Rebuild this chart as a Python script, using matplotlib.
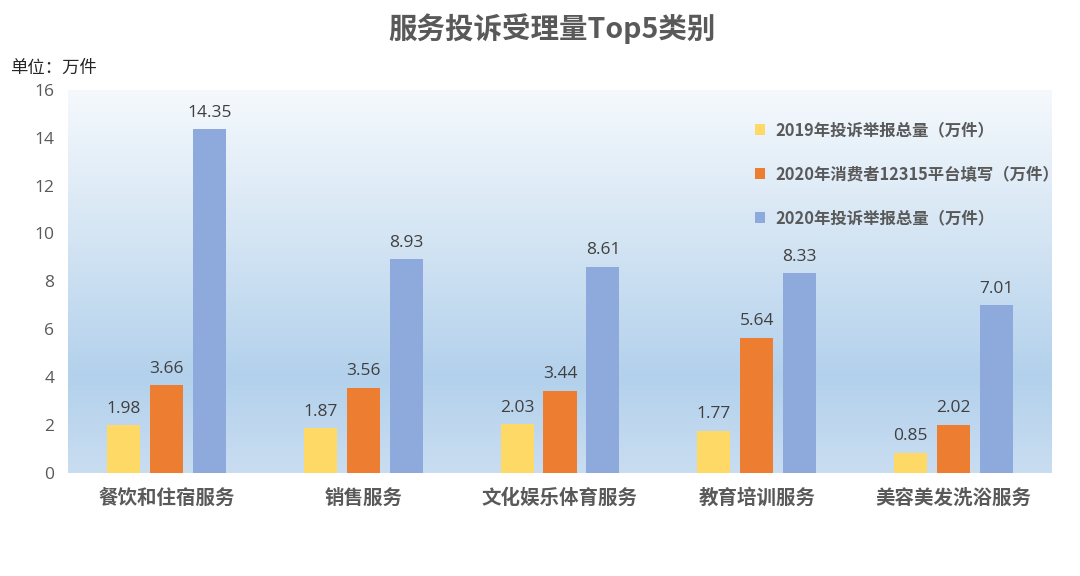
import numpy as np
import matplotlib.pyplot as plt
from matplotlib.colors import LinearSegmentedColormap

plt.rcParams['font.family'] = ['Noto Sans CJK SC', 'DejaVu Sans']

categories = ['餐饮和住宿服务', '销售服务', '文化娱乐体育服务', '教育培训服务', '美容美发洗浴服务']
series_names = ['2019年投诉举报总量（万件）',
                '2020年消费者12315平台填写（万件）',
                '2020年投诉举报总量（万件）']
v2019 = [1.98, 1.87, 2.03, 1.77, 0.85]
v2020_12315 = [3.66, 3.56, 3.44, 5.64, 2.02]
v2020_total = [14.35, 8.93, 8.61, 8.33, 7.01]
colors = ['#FFD966', '#ED7D31', '#8EA9DB']

fig = plt.figure(figsize=(10.8, 5.76), dpi=100)
ax = fig.add_axes([0.063, 0.179, 0.911, 0.665])

# fond en dégradé : clair en haut, bleu vers le quart inférieur
grad_cmap = LinearSegmentedColormap.from_list(
    'bg', [(0.0, '#c9ddf1'), (0.25, '#b3d1ec'), (0.6, '#d3e4f3'), (1.0, '#f5f9fd')])
grad = np.linspace(0, 1, 256).reshape(-1, 1)
ax.imshow(grad, cmap=grad_cmap, origin='lower', aspect='auto',
          extent=[-0.5, 4.5, 0, 16], zorder=0)

x = np.arange(len(categories))
w = 0.168
pitch = 0.218
for i, (vals, c, name) in enumerate(zip([v2019, v2020_12315, v2020_total], colors, series_names)):
    pos = x + (i - 1) * pitch
    ax.bar(pos, vals, width=w, color=c, label=name, zorder=2)
    for xp, v in zip(pos, vals):
        ax.text(xp, v + 0.35, f'{v:.2f}', ha='center', va='bottom',
                fontsize=12.5, family=['Open Sans', 'DejaVu Sans'],
                color='#404040', zorder=3)

ax.set_xlim(-0.5, 4.5)
ax.set_ylim(0, 16)
ax.set_yticks(range(0, 17, 2))
ax.set_xticks(x)
ax.set_xticklabels(categories, fontsize=14, fontweight='bold', color='#595959')
ax.tick_params(axis='y', length=0, pad=10)
for t in ax.get_yticklabels():
    t.set_fontfamily(['Open Sans', 'DejaVu Sans'])
    t.set_fontsize(12.5)
    t.set_color('#595959')
ax.tick_params(axis='x', length=0, pad=11)
for s in ax.spines.values():
    s.set_visible(False)

leg = ax.legend(loc='upper left', bbox_to_anchor=(0.683, 0.957), frameon=False,
                handlelength=0.65, handleheight=0.65, handletextpad=0.6,
                labelspacing=1.6, prop={'size': 11.8, 'weight': 'bold'})
for t in leg.get_texts():
    t.set_color('#595959')

fig.text(0.511, 0.95, '服务投诉受理量Top5类别', ha='center', va='center',
         fontsize=20.5, fontweight='bold', color='#595959')
fig.text(0.009, 0.882, '单位：万件', ha='left', va='center',
         fontsize=12.5, color='#262626')

fig.savefig('out.png', dpi=100)
